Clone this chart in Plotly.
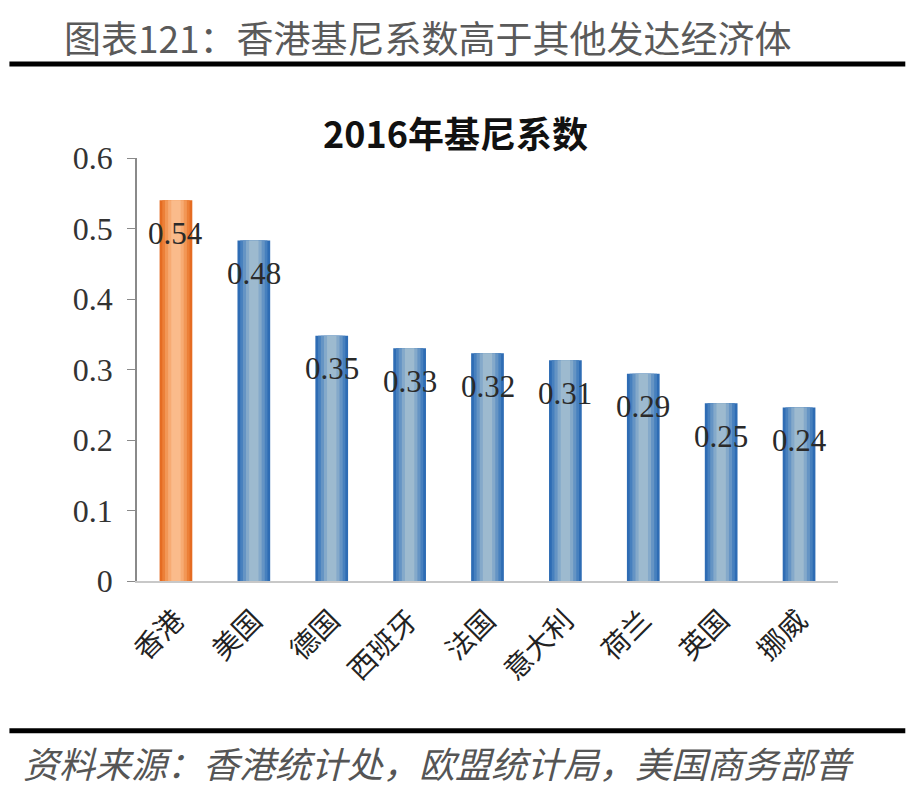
import plotly.graph_objects as go

categories = ["香港", "美国", "德国", "西班牙", "法国", "意大利", "荷兰", "英国", "挪威"]
gini = [0.54, 0.483, 0.348, 0.33, 0.323, 0.313, 0.294, 0.252, 0.246]
labels = ["0.54", "0.48", "0.35", "0.33", "0.32", "0.31", "0.29", "0.25", "0.24"]
y_ticks = [0, 0.1, 0.2, 0.3, 0.4, 0.5, 0.6]
y_tick_text = ["0", "0.1", "0.2", "0.3", "0.4", "0.5", "0.6"]

header = "图表121：香港基尼系数高于其他发达经济体"
chart_title = "2016年基尼系数"
source = "资料来源：香港统计处，欧盟统计局，美国商务部普"

# gradient layers: (width, blue colour, orange colour)
layers = [
    (0.42, "#2E6CB4", "#E56C22"),
    (0.35, "#4780BE", "#EC8038"),
    (0.28, "#6594C4", "#F29756"),
    (0.20, "#84A9CA", "#F7AB73"),
    (0.12, "#9DBACF", "#FABB8B"),
]

fig = go.Figure()
for w, cb, co in layers:
    fig.add_trace(go.Bar(
        x=categories, y=gini, width=w,
        marker=dict(color=[co] + [cb] * (len(categories) - 1), line=dict(width=0)),
        hoverinfo="skip", showlegend=False,
    ))

annotations = []
for c, v, t in zip(categories, gini, labels):
    annotations.append(dict(
        x=c, y=v, xref="x", yref="y", text=t, showarrow=False,
        yanchor="middle", xanchor="center", yshift=-33,
        font=dict(family="Liberation Serif", size=31, color="#2a2a2a"),
    ))

annotations += [
    dict(text=header, xref="paper", yref="paper", x=0.415, y=1.287,
         xanchor="center", yanchor="middle", showarrow=False,
         font=dict(family="Noto Sans CJK SC", size=37, color="#5a5a5a")),
    dict(text="<b>" + chart_title + "</b>", xref="paper", yref="paper",
         x=0.454, y=1.062, xanchor="center", yanchor="middle", showarrow=False,
         font=dict(family="Noto Sans CJK SC", size=36, color="#111")),
    dict(text="<i>" + source + "</i>", xref="paper", yref="paper",
         x=-0.166, y=-0.428, xanchor="left", yanchor="middle", showarrow=False,
         font=dict(family="Noto Sans CJK SC", size=36, color="#555")),
]

fig.update_layout(
    width=919, height=787,
    barmode="overlay",
    paper_bgcolor="white", plot_bgcolor="white",
    margin=dict(l=137, r=81, t=158, b=206),
    xaxis=dict(
        showline=True, linecolor="#c8c8c8", linewidth=1.5,
        ticks="", tickangle=-45, ticklabelstandoff=10,
        tickfont=dict(family="Noto Sans CJK SC", size=28, color="#222"),
        showgrid=False, zeroline=False,
    ),
    yaxis=dict(
        range=[0, 0.6], tickvals=y_ticks, ticktext=y_tick_text,
        showline=True, linecolor="#8a8a8a", linewidth=1.5,
        ticks="outside", ticklen=8, tickcolor="#8a8a8a", ticklabelstandoff=8,
        tickfont=dict(family="Liberation Serif", size=32, color="#333"),
        showgrid=False, zeroline=False,
    ),
    shapes=[
        dict(type="line", xref="paper", yref="paper",
             x0=-0.182, x1=1.096, y0=1.222, y1=1.222,
             line=dict(color="black", width=5)),
        dict(type="line", xref="paper", yref="paper",
             x0=-0.182, x1=1.096, y0=-0.354, y1=-0.354,
             line=dict(color="black", width=5)),
    ],
    annotations=annotations,
)

fig.write_html("out.html", config={"displayModeBar": False},
               post_script="document.body.style.margin='0';document.body.style.overflow='hidden';")
